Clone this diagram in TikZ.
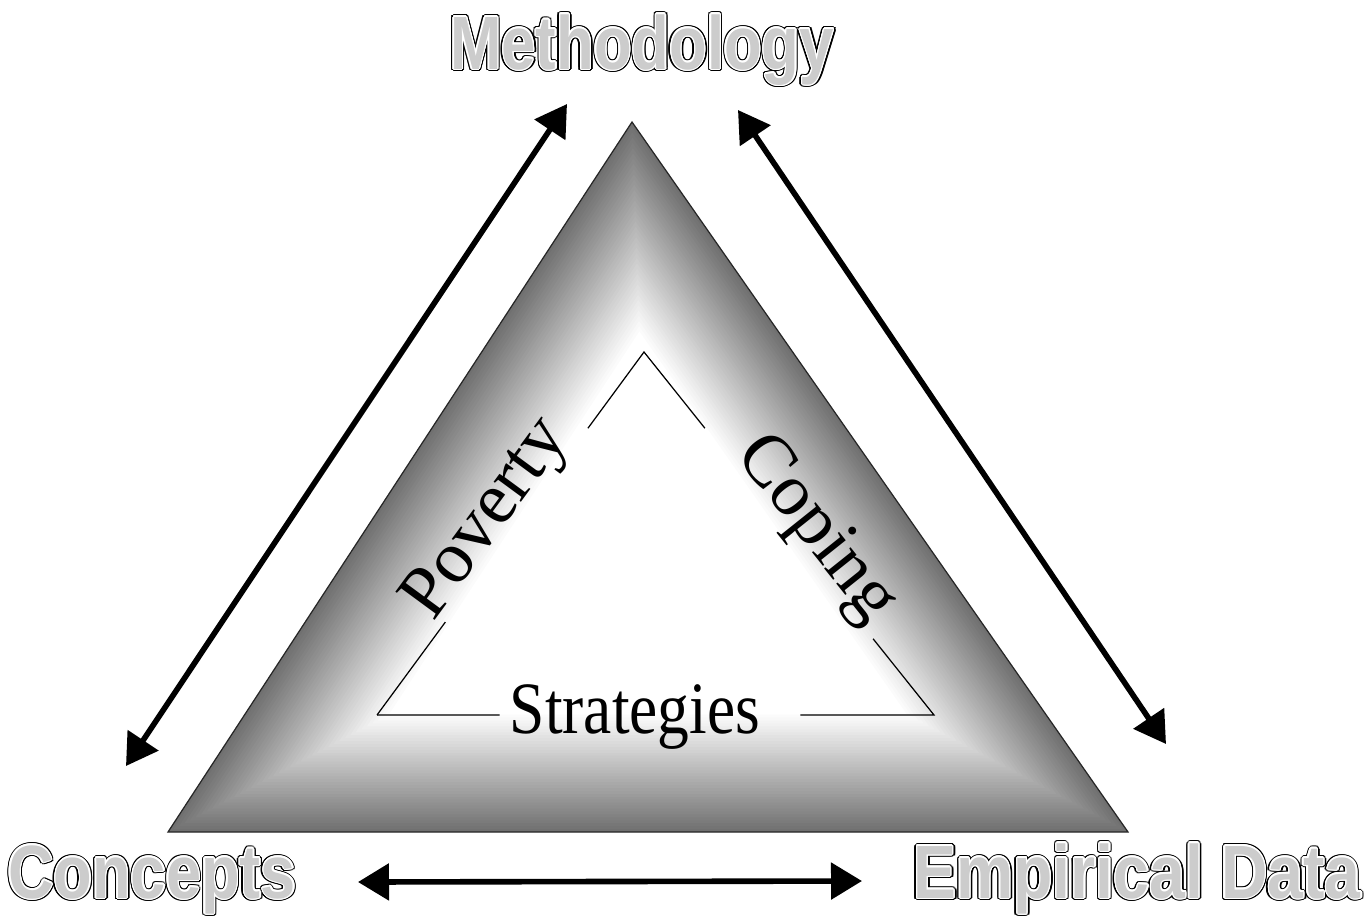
\documentclass[tikz,border=0pt]{standalone}
\usepackage{fontspec}
\usepackage{contour}
\usetikzlibrary{arrows.meta}
\usetikzlibrary{calc}
\newfontfamily\cornerfont[FakeStretch=0.80]{Liberation Sans Bold}
\newfontfamily\innerfont{Liberation Serif}
\newfontfamily\innerfontnarrow[FakeStretch=0.86]{Liberation Serif}
\definecolor{halftone}{gray}{0.80}
\newcommand{\outlined}[1]{\rlap{\contourlength{1.5pt}\contour{black}{\textcolor{white}{#1}}}{\contourlength{0.75pt}\contour{white}{\textcolor{halftone}{#1}}}}
\tikzstyle{twoway}=[line width=3.2pt,<->,>={Triangle[length=0.62cm,width=0.72cm]}]
\tikzstyle{innerline}=[line width=0.7pt]
\tikzstyle{cornerlabel}=[inner sep=0pt,anchor=base,font=\cornerfont\fontsize{43}{43}\selectfont]
\tikzstyle{innerlabel}=[inner sep=0pt,font=\innerfont\fontsize{42}{42}\selectfont]

\begin{document}
\begin{tikzpicture}[x=0.02cm,y=-0.02cm]  % one unit = one pixel of the scan
\useasboundingbox (0,0) rectangle (1370,917);

% shaded triangle
\coordinate (apex) at (632,122);
\coordinate (bl) at (168,832);
\coordinate (br) at (1128,832);
\coordinate (ctr) at (648,577);
\foreach \i in {0,...,40}{
  \pgfmathsetmacro{\s}{1-0.0115*\i}
  \pgfmathsetmacro{\k}{56-1.4*\i}
  \fill[black!\k] ($(ctr)!\s!(apex)$) -- ($(ctr)!\s!(bl)$) -- ($(ctr)!\s!(br)$) -- cycle;
}
\draw[black!85,line width=0.7pt] (apex) -- (bl) -- (br) -- cycle;

% inner triangle, open where the words sit
\coordinate (ia) at (644,352);
\coordinate (ibl) at (377,715);
\coordinate (ibr) at (934,715);
\draw[innerline] (ibl) -- ($(ibl)!0.256!(ia)$);
\draw[innerline] ($(ibl)!0.79!(ia)$) -- (ia) -- ($(ia)!0.21!(ibr)$);
\draw[innerline] ($(ia)!0.79!(ibr)$) -- (ibr) -- ($(ibl)!0.76!(ibr)$);
\draw[innerline] (ibl) -- ($(ibl)!0.22!(ibr)$);

\node[innerlabel,rotate=53.7] (poverty) at (488,520) {Poverty};
\node[innerlabel,rotate=-51.4] (coping) at (815,530) {Coping};
\node[innerlabel,font=\innerfontnarrow\fontsize{42}{42}\selectfont,anchor=base] (strategies) at (635,733) {Strategies};

% corners
\node[cornerlabel] (methodology) at (642,69) {\scalebox{1.02}[1]{\outlined{Methodology}}};
\node[cornerlabel] (concepts) at (152,898) {\scalebox{1.045}[1]{\outlined{Concepts}}};
\node[cornerlabel] (empirical) at (1137,898) {\scalebox{1.065}[1]{\outlined{Empirical Data}}};

% arrows between the corners
\coordinate (meth-l) at (567,104);
\coordinate (conc-u) at (126,766);
\coordinate (meth-r) at (738,110);
\coordinate (emp-u) at (1166,744);
\coordinate (conc-r) at (358,882);
\coordinate (emp-l) at (862,881);
\draw[twoway] (conc-u) -- (meth-l);
\draw[twoway] (meth-r) -- (emp-u);
\draw[twoway] (conc-r) -- (emp-l);
\end{tikzpicture}
\end{document}
